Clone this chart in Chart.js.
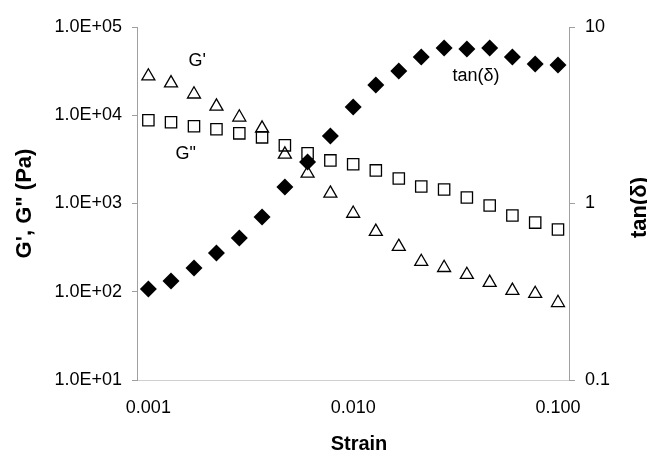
<!DOCTYPE html>
<html>
<head>
<meta charset="utf-8">
<script src="https://cdn.jsdelivr.net/npm/chart.js@4.4.1/dist/chart.umd.min.js"></script>
<style>
  html, body { margin: 0; padding: 0; background: #fff; }
  #wrap { width: 647px; height: 454px; }
</style>
</head>
<body>
<div id="wrap"><canvas id="chart"></canvas></div>
<script>
'use strict';

// strain sweep
const strain = [0.001, 0.00129, 0.00167, 0.00215, 0.00278, 0.00359, 0.00464, 0.00599, 0.00774, 0.0100,
  0.0129, 0.0167, 0.0215, 0.0278, 0.0359, 0.0464, 0.0599, 0.0774, 0.100];
const gPrime = [27700, 23100, 17300, 12600, 9480, 7110, 3600, 2190, 1300, 770,
  481, 324, 219, 187, 156, 127, 103, 95, 75];
const gDouble = [8770, 8320, 7500, 6930, 6240, 5620, 4560, 3700, 3080, 2780,
  2370, 1920, 1560, 1440, 1170, 949, 731, 608, 507];
const tanDelta = [0.328, 0.364, 0.431, 0.525, 0.638, 0.839, 1.24, 1.72, 2.41, 3.52,
  4.69, 5.63, 6.76, 7.60, 7.50, 7.60, 6.76, 6.17, 6.09];

const strainTicks = [0.001, 0.01, 0.1];
const strainTickLabels = ['0.001', '0.010', '0.100'];
const modulusTicks = [10, 100, 1000, 10000, 100000];
const modulusTickLabels = ['1.0E+01', '1.0E+02', '1.0E+03', '1.0E+04', '1.0E+05'];
const tanTicks = [0.1, 1, 10];
const tanTickLabels = ['0.1', '1', '10'];

// text labels inside the plot: [text, strain, value, axis]
const seriesLabels = [
  ["G'", 0.00173, 41000, 'y'],
  ['G"', 0.00152, 3600, 'y'],
  ['tan(\u03b4)', 0.0398, 5.28, 'y2'],
];

const FONT = '"Liberation Sans", Arial, sans-serif';

function toPoints(ys) {
  return strain.map((x, i) => ({ x: x, y: ys[i] }));
}

function fixedTicks(values) {
  return (scale) => {
    scale.ticks = values.map((v) => ({ value: v, major: true }));
  };
}

function labelFor(values, labels) {
  return (v) => {
    const i = values.findIndex((t) => Math.abs(t - v) / t < 1e-6);
    return i >= 0 ? labels[i] : '';
  };
}

const textPlugin = {
  id: 'textPlugin',
  afterDraw(chart) {
    const { ctx, chartArea, scales } = chart;
    ctx.save();
    ctx.fillStyle = '#000';
    ctx.textAlign = 'center';
    ctx.textBaseline = 'middle';

    ctx.font = '18px ' + FONT;
    seriesLabels.forEach(([text, sx, sy, axis]) => {
      ctx.fillText(text, scales.x.getPixelForValue(sx), scales[axis].getPixelForValue(sy));
    });

    ctx.font = 'bold 20px ' + FONT;
    ctx.fillText('Strain', (chartArea.left + chartArea.right) / 2 + 6, 444);

    const midY = (chartArea.top + chartArea.bottom) / 2;
    ctx.font = 'bold 22px ' + FONT;
    ctx.save();
    ctx.translate(25, midY);
    ctx.rotate(-Math.PI / 2);
    ctx.fillText('G\', G" (Pa)', 0, 0);
    ctx.restore();

    ctx.save();
    ctx.translate(640, midY + 4);
    ctx.rotate(-Math.PI / 2);
    ctx.fillText('tan(\u03b4)', 0, 0);
    ctx.restore();

    ctx.restore();
  },
};

new Chart(document.getElementById('chart'), {
  type: 'scatter',
  data: {
    datasets: [
      {
        label: 'tan(\u03b4)',
        data: toPoints(tanDelta),
        yAxisID: 'y2',
        pointStyle: 'rectRot',
        pointRadius: 8.5,
        backgroundColor: '#000',
        borderColor: '#000',
        borderWidth: 0,
      },
      {
        label: "G'",
        data: toPoints(gPrime),
        yAxisID: 'y',
        pointStyle: 'triangle',
        pointRadius: 7.5,
        backgroundColor: 'rgba(0,0,0,0)',
        borderColor: '#000',
        borderWidth: 1.3,
      },
      {
        label: 'G"',
        data: toPoints(gDouble),
        yAxisID: 'y',
        pointStyle: 'rect',
        pointRadius: 8,
        backgroundColor: 'rgba(0,0,0,0)',
        borderColor: '#000',
        borderWidth: 1.3,
      },
    ],
  },
  options: {
    responsive: true,
    maintainAspectRatio: false,
    animation: false,
    layout: { padding: { top: 27, left: 0, right: 0, bottom: 0 } },
    plugins: {
      legend: { display: false },
      tooltip: { enabled: false },
    },
    scales: {
      x: {
        type: 'logarithmic',
        min: 0.00088,
        max: 0.1132,
        afterBuildTicks: fixedTicks(strainTicks),
        afterFit: (s) => { s.height = 74; },
        grid: { display: true, drawOnChartArea: false, drawTicks: false },
        border: { display: true, color: '#d0d0d0', dash: [1, 3], width: 1 },
        ticks: {
          callback: labelFor(strainTicks, strainTickLabels),
          autoSkip: false,
          maxRotation: 0,
          padding: 17,
          color: '#000',
          font: { family: FONT, size: 18 },
        },
      },
      y: {
        type: 'logarithmic',
        position: 'left',
        min: 10,
        max: 100000,
        afterBuildTicks: fixedTicks(modulusTicks),
        afterFit: (s) => { s.width = 137; },
        grid: { display: true, drawOnChartArea: false, drawTicks: true, tickLength: 5, color: '#a0a0a0' },
        border: { display: true, color: '#a0a0a0', dash: [1, 2], width: 1 },
        ticks: {
          callback: labelFor(modulusTicks, modulusTickLabels),
          autoSkip: false,
          padding: 10,
          color: '#000',
          font: { family: FONT, size: 18 },
        },
      },
      y2: {
        type: 'logarithmic',
        position: 'right',
        min: 0.1,
        max: 10,
        afterBuildTicks: fixedTicks(tanTicks),
        afterFit: (s) => { s.width = 78; },
        grid: { display: true, drawOnChartArea: false, drawTicks: true, tickLength: 6, color: '#a0a0a0' },
        border: { display: true, color: '#a0a0a0', dash: [1, 2], width: 1 },
        ticks: {
          callback: labelFor(tanTicks, tanTickLabels),
          autoSkip: false,
          padding: 10,
          color: '#000',
          font: { family: FONT, size: 18 },
        },
      },
    },
  },
  plugins: [textPlugin],
});
</script>
</body>
</html>
